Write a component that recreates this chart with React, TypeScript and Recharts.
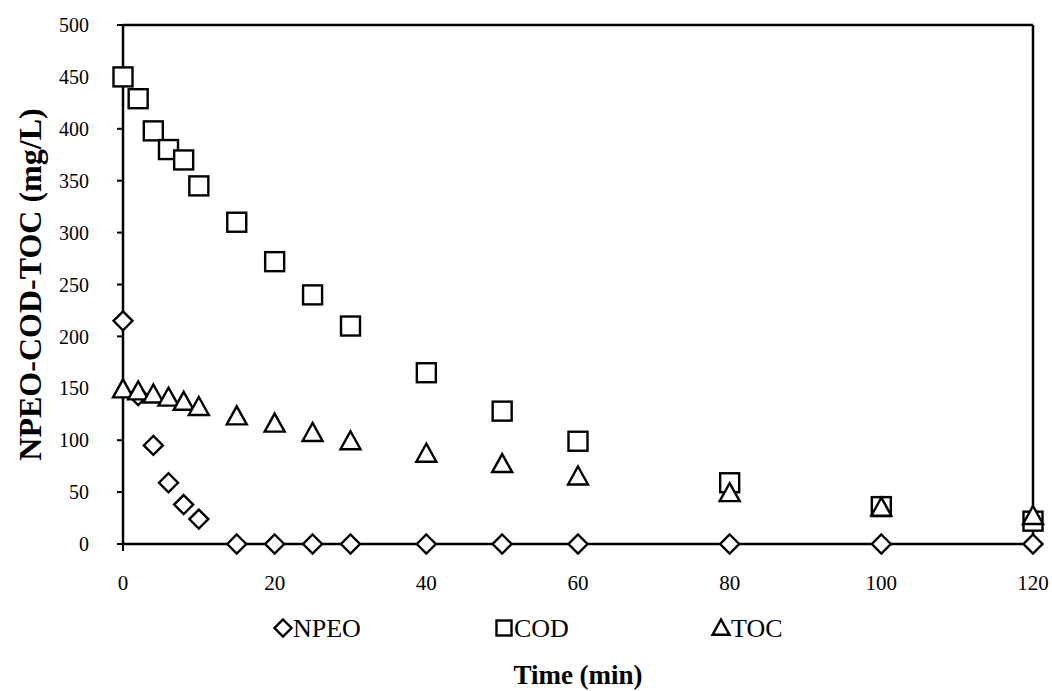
import React from "react";
import {
  ScatterChart,
  Scatter,
  XAxis,
  YAxis,
  ReferenceLine,
  Legend,
} from "recharts";

const FONT = '"Liberation Serif", "Times New Roman", serif';

// sampling times (min)
const times = [0, 2, 4, 6, 8, 10, 15, 20, 25, 30, 40, 50, 60, 80, 100, 120];
const npeo = [215, 143, 95, 59, 38, 24, 0, 0, 0, 0, 0, 0, 0, 0, 0, 0];
const cod = [450, 429, 398, 380, 370, 345, 310, 272, 240, 210, 165, 128, 99, 59, 36, 22];
const toc = [149, 147, 144, 141, 137, 132, 123, 116, 107, 99, 87, 77, 65, 49, 35, 27];

const xTicks = [0, 20, 40, 60, 80, 100, 120];
const yTicks = [0, 50, 100, 150, 200, 250, 300, 350, 400, 450, 500];
const seriesNames = ["NPEO", "COD", "TOC"];

const toPoints = (vals: number[]) => times.map((t, i) => ({ t, v: vals[i] }));

const SW = 2.4;

const Diamond = ({ cx, cy, r = 9.5 }: any) => (
  <polygon
    points={`${cx},${cy - r} ${cx + r},${cy} ${cx},${cy + r} ${cx - r},${cy}`}
    fill="#fff"
    stroke="#000"
    strokeWidth={SW}
  />
);

const Square = ({ cx, cy, r = 9.5 }: any) => (
  <rect x={cx - r} y={cy - r} width={r * 2} height={r * 2} fill="#fff" stroke="#000" strokeWidth={SW} />
);

const Triangle = ({ cx, cy, r = 10 }: any) => (
  <polygon
    points={`${cx},${cy - r} ${cx + r},${cy + r * 0.8} ${cx - r},${cy + r * 0.8}`}
    fill="#fff"
    stroke="#000"
    strokeWidth={SW}
  />
);

const YTitle = ({ viewBox }: any) => {
  const x = 30;
  const y = viewBox ? viewBox.y + viewBox.height / 2 : 284;
  return (
    <text
      x={x}
      y={y}
      transform={`rotate(-90 ${x} ${y})`}
      textAnchor="middle"
      dominantBaseline="central"
      fontFamily={FONT}
      fontWeight="bold"
      fontSize={32}
      fill="#000"
    >
      NPEO-COD-TOC (mg/L)
    </text>
  );
};

const XTitle = ({ viewBox }: any) => {
  const x = viewBox ? viewBox.x + viewBox.width / 2 : 578;
  return (
    <text
      x={x}
      y={675}
      textAnchor="middle"
      dominantBaseline="central"
      fontFamily={FONT}
      fontWeight="bold"
      fontSize={27}
      fill="#000"
    >
      Time (min)
    </text>
  );
};

const legendPos = [283, 504, 721];
const legendIcons = [Diamond, Square, Triangle];

const LegendBox = () => (
  <svg width={1052} height={40}>
    {seriesNames.map((name, i) => {
      const Icon = legendIcons[i];
      const cx = legendPos[i];
      return (
        <g key={name}>
          <Icon cx={cx} cy={20} r={i === 1 ? 7.5 : 8.5} />
          <text x={cx + 10} y={20} dominantBaseline="central" fontFamily={FONT} fontSize={26} fill="#000">
            {name}
          </text>
        </g>
      );
    })}
  </svg>
);

export default function App() {
  return (
    <div style={{ position: "absolute", top: 0, left: 0, width: 1052, height: 691, background: "#fff" }}>
      <ScatterChart width={1052} height={691} margin={{ top: 25, right: 19, bottom: 0, left: 0 }}>
        <XAxis
          dataKey="t"
          type="number"
          domain={[0, 120]}
          ticks={xTicks}
          height={147}
          tickSize={7}
          tickMargin={24}
          axisLine={{ stroke: "#000", strokeWidth: 2.5 }}
          tickLine={{ stroke: "#000", strokeWidth: 2 }}
          tick={{ fill: "#000", fontSize: 21, fontFamily: FONT }}
          label={<XTitle />}
        />
        <YAxis
          dataKey="v"
          type="number"
          domain={[0, 500]}
          ticks={yTicks}
          width={123}
          tickSize={6}
          tickMargin={28}
          axisLine={{ stroke: "#000", strokeWidth: 2.5 }}
          tickLine={{ stroke: "#000", strokeWidth: 2 }}
          tick={{ fill: "#000", fontSize: 20, fontFamily: FONT }}
          label={<YTitle />}
        />
        <ReferenceLine y={500} stroke="#000" strokeWidth={2.5} />
        <ReferenceLine x={120} stroke="#000" strokeWidth={2.5} />
        <Legend
          layout="horizontal"
          verticalAlign="middle"
          align="center"
          wrapperStyle={{ left: 0, top: 608, width: 1052, height: 40 }}
          content={<LegendBox />}
        />
        <Scatter name="NPEO" data={toPoints(npeo)} shape={<Diamond />} isAnimationActive={false} />
        <Scatter name="COD" data={toPoints(cod)} shape={<Square />} isAnimationActive={false} />
        <Scatter name="TOC" data={toPoints(toc)} shape={<Triangle />} isAnimationActive={false} />
      </ScatterChart>
    </div>
  );
}
